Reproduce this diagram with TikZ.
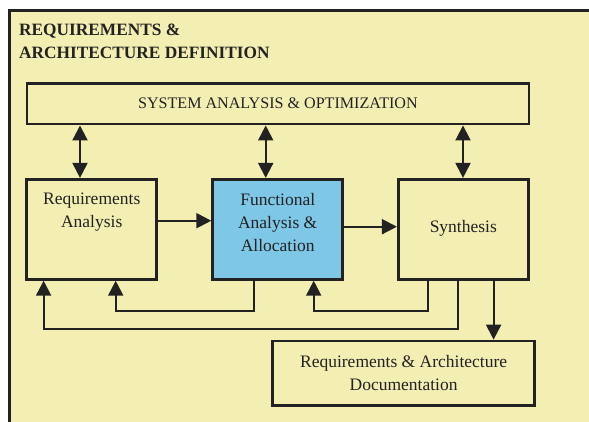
\documentclass[tikz,border=0pt]{standalone}
\usepackage{fontspec}
\setmainfont{Liberation Serif}
\usetikzlibrary{arrows.meta,calc}
\definecolor{bgyellow}{HTML}{F3EEB2}
\definecolor{fnblue}{HTML}{7EC7E7}
\definecolor{ink}{HTML}{222222}
\begin{document}
\begin{tikzpicture}[x=1pt,y=-1pt,
  box/.style={draw=ink, line width=2.8pt, fill=bgyellow, minimum width=130pt, minimum height=100pt, inner sep=0pt},
  txt/.style={text=ink, align=center, inner sep=0pt, font=\fontsize{17.5}{23}\selectfont},
  conn/.style={draw=ink, line width=2pt},
  arr/.style={conn, -{Triangle[length=15pt,width=15pt]}},
  dbl/.style={conn, {Triangle[length=15pt,width=15pt]}-{Triangle[length=15pt,width=15pt]}},
]
\useasboundingbox (0,0) rectangle (589,421);
\begin{scope}
\clip (0,0) rectangle (589,421);
\draw[draw=ink, line width=3pt, fill=bgyellow] (9,10) rectangle (620,450);
\end{scope}
\node[anchor=north west, inner sep=0pt, text=ink, align=left, font=\bfseries\fontsize{17.3}{23.3}\selectfont] (title) at (19,23.3) {REQUIREMENTS \&\\ARCHITECTURE DEFINITION};

\node[box, minimum width=502pt, minimum height=40.7pt, text=ink, font=\fontsize{16.1}{20}\selectfont] (sys) at (277.9,103.7) {SYSTEM ANALYSIS \& OPTIMIZATION};

\node[box] (req) at (91.7,229.3) {};
\node[txt] (reqtxt) at (91.7,212.5) {Requirements\\Analysis};
\node[box, fill=fnblue] (func) at (277.7,229.3) {};
\node[txt] (functxt) at (277.7,223) {Functional\\Analysis \&\\Allocation};
\node[box] (synth) at (463.3,229.3) {};
\node[txt] (synthtxt) at (463.3,228) {Synthesis};
\node[box, minimum width=262pt, minimum height=64.7pt] (doc) at (403.6,373.4) {};
\node[txt] (doctxt) at (403.6,372.8) {Requirements \& Architecture\\Documentation};

\draw[dbl] (sys.south -| 80,0) -- (req.north -| 80,0);
\draw[dbl] (sys.south -| 265.7,0) -- (func.north -| 265.7,0);
\draw[dbl] (sys.south -| 463,0) -- (synth.north -| 463,0);
\draw[arr] (req.east |- 0,220.7) -- (func.west |- 0,220.7);
\draw[arr] (func.east |- 0,226.7) -- (synth.west |- 0,226.7);
\draw[arr] (func.south -| 254.3,0) |- (115.7,310.7) -- (req.south -| 115.7,0);
\draw[arr] (synth.south -| 427.9,0) |- (313.7,310.7) -- (func.south -| 313.7,0);
\draw[arr] (synth.south -| 458,0) |- (43.6,329) -- (req.south -| 43.6,0);
\draw[arr] (synth.south -| 493.6,0) -- (doc.north -| 493.6,0);
\end{tikzpicture}
\end{document}
